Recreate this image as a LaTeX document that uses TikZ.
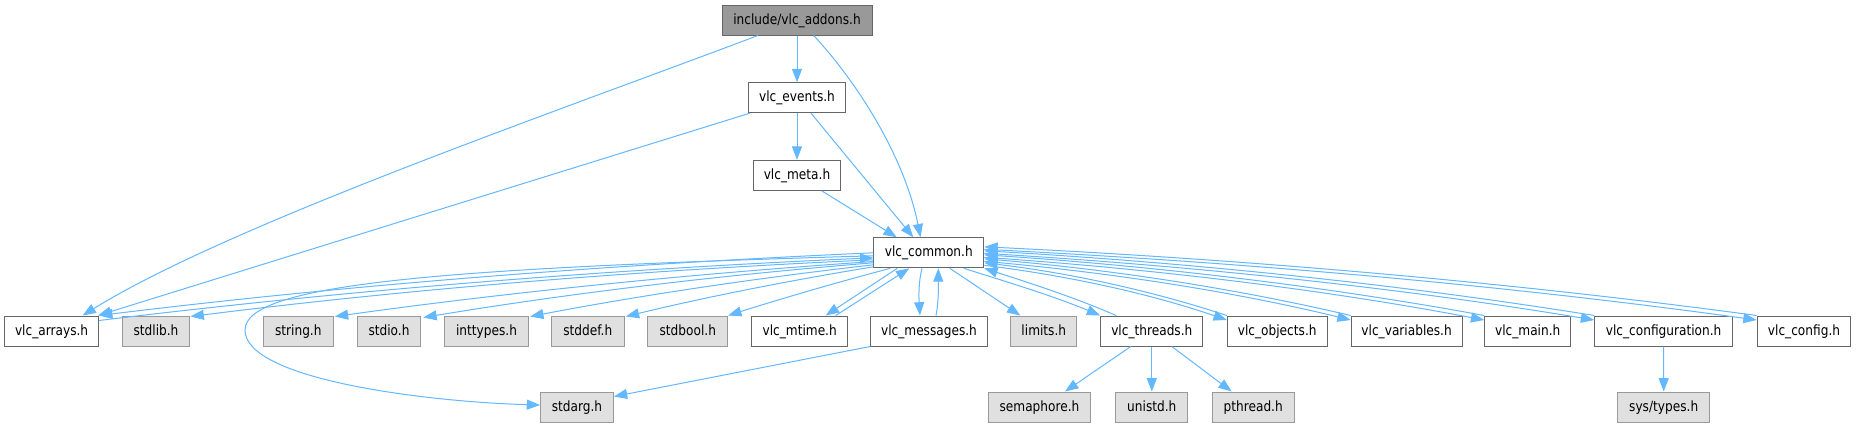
\documentclass[tikz,border=0pt]{standalone}
\usepackage{fontspec}
\newfontfamily\nodefont[FakeStretch=0.86]{DejaVu Sans}
\usetikzlibrary{arrows.meta,calc}
\definecolor{eblue}{HTML}{63B8FF}
\definecolor{cfour}{HTML}{666666}
\definecolor{csix}{HTML}{999999}
\definecolor{ceo}{HTML}{E0E0E0}
\newcommand\cedge[4]{\draw[edge] let \p1=(#1), \p2=(#2) in (\p1) .. controls ({\x1+0.33*(\x2-\x1)},{\y1+#3*(\y2-\y1)}) and ({\x2-0.33*(\x2-\x1)},{\y2-#4*(\y2-\y1)}) .. (\p2);}
\tikzset{
  base/.style={rectangle, inner sep=0pt, minimum height=22.5pt, text height=8pt, text depth=2pt, line width=0.75pt, font={\nodefont\fontsize{10.6pt}{12pt}\selectfont}},
  doc/.style={base, draw=cfour, fill=white, minimum width=#1*0.75pt},
  sysh/.style={base, draw=csix, fill=ceo, minimum width=#1*0.75pt},
  rootn/.style={base, draw=cfour, fill=csix, minimum width=#1*0.75pt},
  edge/.style={draw=eblue, line width=0.75pt, -{Triangle[length=10pt,width=7.5pt]}},
}
\begin{document}
\begin{tikzpicture}[x=0.75pt, y=-0.75pt]
\useasboundingbox[fill=white] (0,0) rectangle (1856,429);
% nodes
\node[rootn=150] (addons) at (797,20) {include/vlc\_addons.h};
\node[doc=96.5] (events) at (797,97.7) {vlc\_events.h};
\node[doc=87.4] (meta) at (797,175.3) {vlc\_meta.h};
\node[doc=110] (common) at (928.8,252.8) {vlc\_common.h};
\node[doc=94] (arrays) at (51.6,331) {vlc\_arrays.h};
\node[sysh=67] (stdlib) at (156,331) {stdlib.h};
\node[sysh=70] (string) at (298.3,331) {string.h};
\node[sysh=63.7] (stdio) at (389,331) {stdio.h};
\node[sysh=84.3] (inttypes) at (486.5,331) {inttypes.h};
\node[sysh=73] (stddef) at (587.8,331) {stddef.h};
\node[sysh=79.7] (stdbool) at (687.8,331) {stdbool.h};
\node[doc=96] (mtime) at (799.7,331) {vlc\_mtime.h};
\node[doc=116.6] (messages) at (929,331) {vlc\_messages.h};
\node[sysh=66] (limits) at (1043.8,331) {limits.h};
\node[doc=102.3] (threads) at (1151.8,331) {vlc\_threads.h};
\node[doc=99.7] (objects) at (1277.2,331) {vlc\_objects.h};
\node[doc=110.8] (variables) at (1406.6,331) {vlc\_variables.h};
\node[doc=85.9] (main) at (1527.7,331) {vlc\_main.h};
\node[doc=137.8] (configuration) at (1663.6,331) {vlc\_configuration.h};
\node[doc=93.7] (config) at (1804,331) {vlc\_config.h};
\node[sysh=72.8] (stdarg) at (577,407) {stdarg.h};
\node[sysh=102.4] (semaphore) at (1039.5,407) {semaphore.h};
\node[sysh=71.7] (unistd) at (1151.8,407) {unistd.h};
\node[sysh=82.3] (pthread) at (1253.2,407) {pthread.h};
\node[sysh=91.5] (systypes) at (1663.7,407) {sys/types.h};
% top edges
\draw[edge] (addons.south) -- (events.north);
\draw[edge] (events.south) -- (meta.north);
\draw[edge] ($(addons.south)+(16.7,0)$) .. controls +(46.3,50) and +(-15.5,-78) .. ($(common.north)+(-8.3,0)$);
\draw[edge] ($(addons.south west)+(36.4,0)$) .. controls +(-198,75) and +(147,-91) .. ($(arrays.north)+(31,0)$);
\draw[edge] ($(events.south west)+(1.5,0)$) -- ($(arrays.north east)+(-1,0)$);
\draw[edge] ($(events.south)+(14,0)$) -- ($(common.north)+(-15.5,0)$);
\draw[edge] ($(meta.south)+(24.7,0)$) -- ($(common.north)+(-32,0)$);
% left side
\cedge{common.west}{arrays.north east}{0.18}{0.5}
\cedge{$(arrays.north east)+(0,5)$}{$(common.west)+(0,5)$}{0.5}{0.18}
\cedge{$(common.west)+(0,7)$}{$(stdlib.north east)+(0.5,1)$}{0.18}{0.5}
\cedge{$(common.west)+(0,8.7)$}{$(string.north east)+(1,1)$}{0.22}{0.45}
\cedge{$(common.west)+(0,10)$}{$(stdio.north east)+(2,2)$}{0.22}{0.45}
\cedge{$(common.west)+(0,12)$}{$(inttypes.north east)+(1,1)$}{0.25}{0.42}
\cedge{$(common.west)+(0,14)$}{$(stddef.north east)+(1,1)$}{0.27}{0.4}
\cedge{$(common.south west)+(17,0)$}{stdbool.north east}{0.3}{0.36}
\draw[edge] ($(common.west)+(0,3)$) .. controls (450,268) and (245,283) .. (245,330) .. controls (245,380) and (430,402) .. ($(stdarg.west)+(0,-2)$);
\draw[edge] ($(common.south west)+(24,0)$) -- ($(mtime.north)+(26,0)$);
\draw[edge] ($(mtime.north)+(36,0)$) -- ($(common.south west)+(36,0)$);
\draw[edge] ($(common.south)+(-6.8,0)$) .. controls +(-4,16) and +(-1,-16) .. ($(messages.north)+(-9,0)$);
\draw[edge] ($(messages.north)+(7,0)$) .. controls +(3,-16) and +(0,18) .. ($(common.south)+(9.5,0)$);
\draw[edge] (messages.south west) -- ($(stdarg.north east)+(0,5)$);
% right side
\draw[edge] ($(common.south)+(21,0)$) -- ($(limits.north west)+(10,0)$);
\cedge{$(common.south)+(35,0)$}{threads.north west}{0.3}{0.4}
\cedge{$(threads.north west)+(16,0)$}{common.south east}{0.4}{0.3}
\cedge{objects.north west}{$(common.east)+(0,10)$}{0.5}{0.18}
\cedge{$(common.east)+(0,12.5)$}{$(objects.north west)+(0,4.5)$}{0.18}{0.5}
\cedge{variables.north west}{$(common.east)+(0,6)$}{0.5}{0.18}
\cedge{$(common.east)+(0,8.5)$}{$(variables.north west)+(0,4.5)$}{0.18}{0.5}
\cedge{main.north west}{$(common.east)+(0,2)$}{0.5}{0.18}
\cedge{$(common.east)+(0,4.5)$}{$(main.north west)+(0,4.5)$}{0.18}{0.5}
\cedge{configuration.north west}{$(common.east)+(0,-2)$}{0.5}{0.18}
\cedge{$(common.east)+(0,0.5)$}{$(configuration.north west)+(0,4.5)$}{0.18}{0.5}
\cedge{config.north west}{$(common.east)+(0,-6)$}{0.5}{0.18}
\cedge{$(common.east)+(0,-3.5)$}{$(config.north west)+(0,4.5)$}{0.18}{0.5}
% lower
\draw[edge] ($(threads.south)+(-21,0)$) -- ($(semaphore.north)+(25.5,0)$);
\draw[edge] (threads.south) -- (unistd.north);
\draw[edge] ($(threads.south)+(20,0)$) -- ($(pthread.north)+(-21.5,0)$);
\draw[edge] (configuration.south) -- (systypes.north);
\end{tikzpicture}
\end{document}
